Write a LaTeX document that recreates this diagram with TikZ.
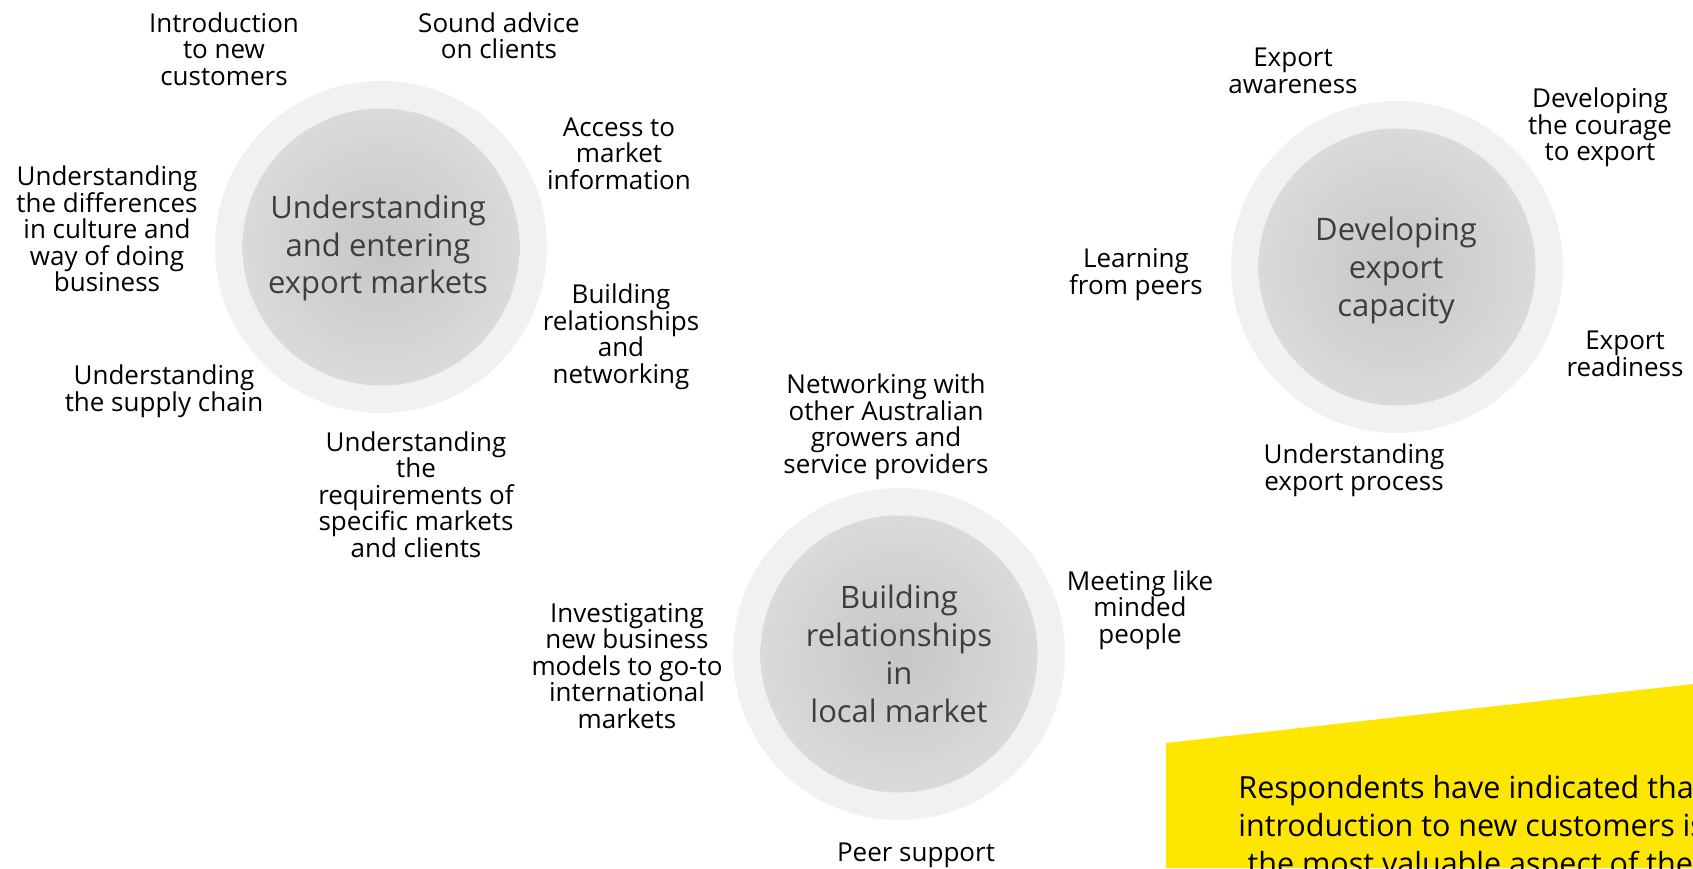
\documentclass[tikz,border=0pt]{standalone}
\usepackage{fontspec}
\setmainfont{Open Sans}
\definecolor{ringgray}{RGB}{241,241,241}
\definecolor{coremid}{RGB}{198,198,198}
\definecolor{coreedge}{RGB}{218,218,218}
\definecolor{coretext}{RGB}{62,62,62}
\definecolor{eyyellow}{RGB}{255,230,0}
\begin{document}
\begin{tikzpicture}[x=0.5pt,y=-0.5pt,
  lbl/.style={align=center, anchor=north, inner sep=0pt, text=black,
    font=\fontsize{13}{13.25}\selectfont},
  coretxt/.style={align=center, anchor=north, inner sep=0pt, text=coretext,
    font=\fontsize{15.5}{19}\selectfont},
  ring/.style={circle, draw=none, fill=ringgray, minimum size=166pt, inner sep=0pt},
  core/.style={circle, draw=none, inner color=coremid, outer color=coreedge,
    minimum size=138.5pt, inner sep=0pt},
  msgtxt/.style={align=left, anchor=north west, inner sep=0pt, text=black,
    font=\fontsize{15.25}{19}\selectfont}]
\clip (0,0) rectangle (1693,868);
\fill[white] (0,0) rectangle (1693,868);

% circle 1
\node[ring] (c1o) at (381,247) {};
\node[core] (c1i) at (381,247) {};
\node[coretxt, font=\fontsize{15.5}{18.75}\selectfont] (t1) at (378,195) {Understanding\\and entering\\export markets};
\node[lbl] (l1a) at (224,12) {Introduction\\to new\\customers};
\node[lbl] (l1b) at (499,12) {Sound advice\\on clients};
\node[lbl] (l1c) at (619,117) {Access to\\market\\information};
\node[lbl] (l1d) at (107,165.5) {Understanding\\the differences\\in culture and\\way of doing\\business};
\node[lbl] (l1e) at (621,283.5) {Building\\relationships\\and\\networking};
\node[lbl] (l1f) at (164,364.5) {Understanding\\the supply chain};
\node[lbl] (l1g) at (416,431) {Understanding\\the\\requirements of\\specific markets\\and clients};

% circle 2
\node[ring] (c2o) at (1397,267) {};
\node[core] (c2i) at (1397,267) {};
\node[coretxt] (t2) at (1396,216.5) {Developing\\export\\capacity};
\node[lbl] (l2a) at (1293,48) {Export\\awareness};
\node[lbl] (l2b) at (1600,87.5) {Developing\\the courage\\to export};
\node[lbl] (l2c) at (1136,248.5) {Learning\\from peers};
\node[lbl] (l2d) at (1625,331) {Export\\readiness};
\node[lbl] (l2e) at (1354,443.5) {Understanding\\export process};

% circle 3
\node[ring] (c3o) at (899,654) {};
\node[core] (c3i) at (899,654) {};
\node[coretxt] (t3) at (899,584.5) {Building\\relationships\\in\\local market};
\node[lbl] (l3a) at (886,373.5) {Networking with\\other Australian\\growers and\\service providers};
\node[lbl] (l3b) at (1140,570) {Meeting like\\minded\\people};
\node[lbl] (l3c) at (627,603) {Investigating\\new business\\models to go-to\\international\\markets};
\node[lbl] (l3d) at (916,843) {Peer support};

% yellow message panel
\fill[eyyellow] (1166,743) -- (1693,684) -- (1693,868) -- (1166,868) -- cycle;
\node[msgtxt] (msg) at (1238,775) {Respondents have indicated that\\introduction to new customers is\\\hspace*{0.3em}the most valuable aspect of the};
\end{tikzpicture}
\end{document}
